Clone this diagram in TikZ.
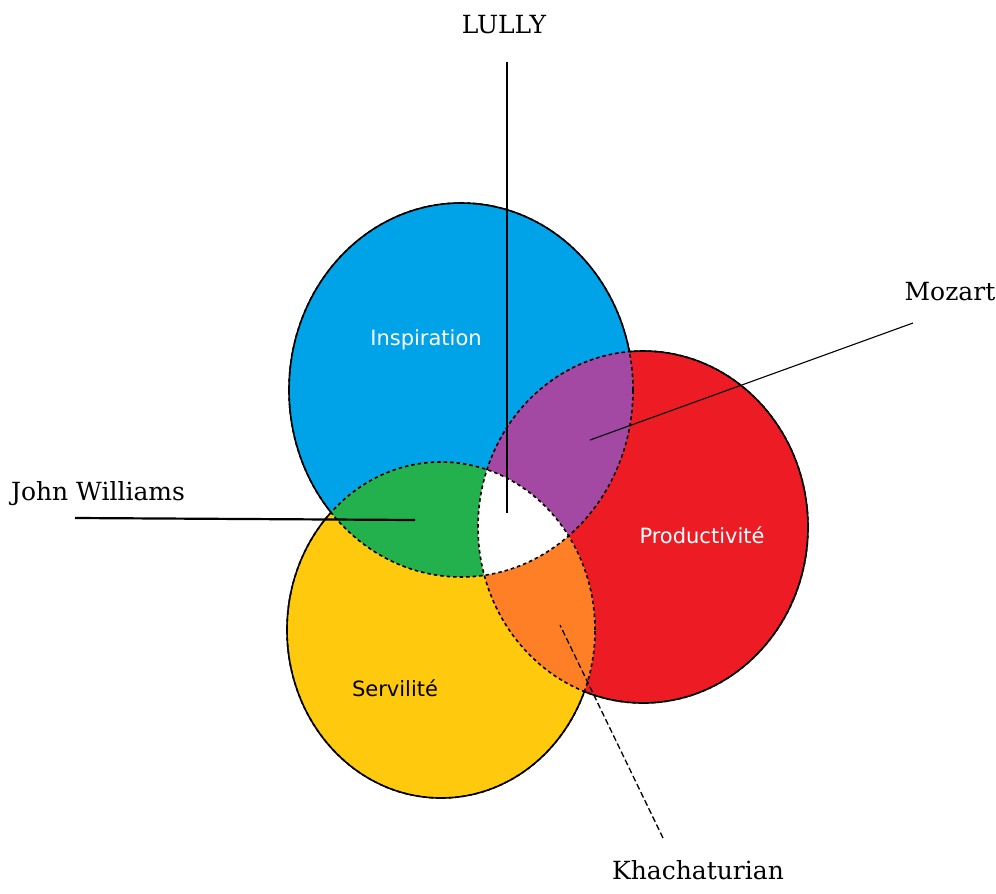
\documentclass[tikz,border=0pt]{standalone}
\usepackage{fontspec}
\newfontfamily\serifA{DejaVu Serif}
\newfontfamily\sansA{DejaVu Sans}
\definecolor{cBlue}{HTML}{00A2E8}
\definecolor{cRed}{HTML}{ED1C24}
\definecolor{cYellow}{HTML}{FFC90E}
\definecolor{cPurple}{HTML}{A349A4}
\definecolor{cGreen}{HTML}{22B14C}
\definecolor{cOrange}{HTML}{FF7F27}
\begin{document}
\begin{tikzpicture}[x=1pt,y=-1pt,
  outerline/.style={line width=1.6pt},
  innerline/.style={line width=1.6pt, dash pattern=on 3.5pt off 3pt},
  composer/.style={font=\serifA\fontsize{25}{28}\selectfont, inner sep=0pt},
  quality/.style={font=\sansA\fontsize{21}{24}\selectfont, inner sep=0pt},
  leader/.style={line width=1.3pt}]
\useasboundingbox (0,0) rectangle (996,894);
% base fills
\fill[cBlue] (461,390) ellipse [x radius=172pt, y radius=187pt];
\fill[cRed] (643,527) ellipse [x radius=165pt, y radius=176pt];
\fill[cYellow] (441,630) ellipse [x radius=154pt, y radius=168pt];
\begin{scope}
  \clip (461,390) ellipse [x radius=172pt, y radius=187pt];
  \fill[cPurple] (643,527) ellipse [x radius=165pt, y radius=176pt];
  \fill[cGreen] (441,630) ellipse [x radius=154pt, y radius=168pt];
\end{scope}
\begin{scope}
  \clip (643,527) ellipse [x radius=165pt, y radius=176pt];
  \fill[cOrange] (441,630) ellipse [x radius=154pt, y radius=168pt];
\end{scope}
\begin{scope}
  \clip (461,390) ellipse [x radius=172pt, y radius=187pt];
  \clip (643,527) ellipse [x radius=165pt, y radius=176pt];
  \fill[white] (441,630) ellipse [x radius=154pt, y radius=168pt];
\end{scope}
% dashed inner outlines
\draw[innerline] (461,390) ellipse [x radius=172pt, y radius=187pt];
\draw[innerline] (643,527) ellipse [x radius=165pt, y radius=176pt];
\draw[innerline] (441,630) ellipse [x radius=154pt, y radius=168pt];
% solid outer outlines
\begin{scope}[even odd rule]
  \clip (-10,-10) rectangle (1006,904) (643,527) ellipse [x radius=165pt, y radius=176pt];
  \begin{scope}[even odd rule]
  \clip (-10,-10) rectangle (1006,904) (441,630) ellipse [x radius=154pt, y radius=168pt];
  \draw[outerline] (461,390) ellipse [x radius=172pt, y radius=187pt];
  \end{scope}
\end{scope}
\begin{scope}[even odd rule]
  \clip (-10,-10) rectangle (1006,904) (461,390) ellipse [x radius=172pt, y radius=187pt];
  \begin{scope}[even odd rule]
  \clip (-10,-10) rectangle (1006,904) (441,630) ellipse [x radius=154pt, y radius=168pt];
  \draw[outerline] (643,527) ellipse [x radius=165pt, y radius=176pt];
  \end{scope}
\end{scope}
\begin{scope}[even odd rule]
  \clip (-10,-10) rectangle (1006,904) (461,390) ellipse [x radius=172pt, y radius=187pt];
  \begin{scope}[even odd rule]
  \clip (-10,-10) rectangle (1006,904) (643,527) ellipse [x radius=165pt, y radius=176pt];
  \draw[outerline] (441,630) ellipse [x radius=154pt, y radius=168pt];
  \end{scope}
\end{scope}
% region labels
\node[quality, text=white] (insp) at (426,340) {Inspiration};
\node[quality, text=white] (prod) at (702,535) {Productivité};
\node[quality, text=black] (serv) at (395,688) {Servilité};
% composer labels
\node[composer] (lully) at (504,25) {LULLY};
\node[composer] (mozart) at (950,292) {Mozart};
\node[composer] (jw) at (98,494) {John Williams};
\node[composer] (khach) at (698,870) {Khachaturian};
% leader end points
\coordinate (lullyA) at (507,62);
\coordinate (lullyB) at (507,513);
\coordinate (mozA) at (913,323);
\coordinate (mozB) at (590,440);
\coordinate (jwA) at (75,518);
\coordinate (jwB) at (415,520);
\coordinate (khA) at (663,838);
\coordinate (khB) at (560,625);
\draw[leader, line width=2pt] (lullyA) -- (lullyB);
\draw[leader, line width=1.1pt] (mozA) -- (mozB);
\draw[leader, line width=2.2pt] (jwA) -- (jwB);
\draw[leader, line width=1.3pt, dash pattern=on 6pt off 3pt] (khA) -- (khB);
\end{tikzpicture}
\end{document}
